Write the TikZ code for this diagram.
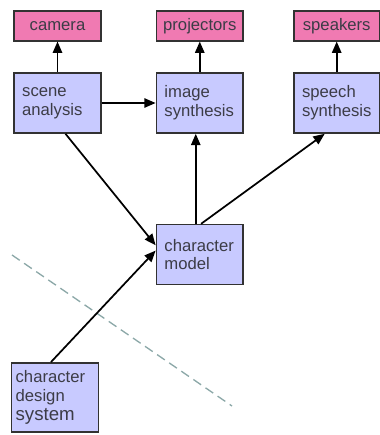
\documentclass[tikz,border=0pt]{standalone}
\usepackage{fontspec}
\setmainfont{Liberation Sans}
\usepackage{xcolor}
\usepackage{tikz}
\usetikzlibrary{arrows.meta, positioning}
\definecolor{CharBlue}{RGB}{200,202,255}
\definecolor{CharPink}{RGB}{240,122,178}
\definecolor{CharEdge}{RGB}{50,50,50}
\definecolor{CharText}{RGB}{60,60,70}
\definecolor{CharDash}{RGB}{140,168,168}

\begin{document}
\begin{tikzpicture}[
  x=0.75pt, y=0.75pt,
  proc/.style={draw=CharEdge, line width=1.2pt, fill=CharBlue, text width=53pt, inner xsep=6pt,
               minimum height=45pt, align=left, font=\fontsize{12.5}{14}\selectfont, text=CharText},
  io/.style={draw=CharEdge, line width=1.2pt, fill=CharPink, minimum width=65pt, minimum height=22.5pt,
             inner xsep=2pt, font=\fontsize{12.5}{14}\selectfont, text=CharText},
  arr/.style={-{Triangle[length=8.5pt,width=7pt]}, line width=1.3pt},
  sep/.style={draw=CharDash, line width=1pt, dash pattern=on 7pt off 4pt},
  node distance=24pt,
]
\useasboundingbox (0,0) rectangle (379,-435);
%% Processing row
\node[proc] (scene) at (57.5,-103) {scene\\analysis};
\node[proc, right=40.5pt of scene] (image) {image\\synthesis};
\node[proc, right=37pt of image, text width=52pt] (speech) {speech\\synthesis};
%% Devices
\node[io, above=23pt of scene] (camera) {camera};
\node[io, above=23pt of image] (proj) {projectors};
\node[io, above=23pt of speech, minimum width=64pt] (speak) {speakers};
%% Character
\node[proc, below=67.5pt of image] (model) {character\\model};
\node[proc, minimum height=52pt, inner xsep=3pt, text width=59pt] (design) at (55,-397.5)
  {character\\design\\{\fontsize{14}{15}\selectfont system}};
%% Separator
\coordinate (sepA) at (12,-255);
\coordinate (sepB) at (232,-406);
\draw[sep] (sepA) -- (sepB);
%% Connectors
\draw[arr] (scene) -- (camera);
\draw[arr] (image) -- (proj);
\draw[arr] (speech) -- (speak);
\draw[arr] (scene) -- (image);
\draw[arr] ([xshift=6pt]scene.south) -- ([yshift=7pt]model.west);
\draw[arr] ([xshift=-3pt]design.north) -- ([yshift=3pt]model.west);
\draw[arr] ([xshift=-3pt]model.north) -- ([xshift=-3pt]model.north |- image.south);
\draw[arr] ([xshift=1pt]model.north) -- ([xshift=-9pt]speech.south);
\end{tikzpicture}
\end{document}
